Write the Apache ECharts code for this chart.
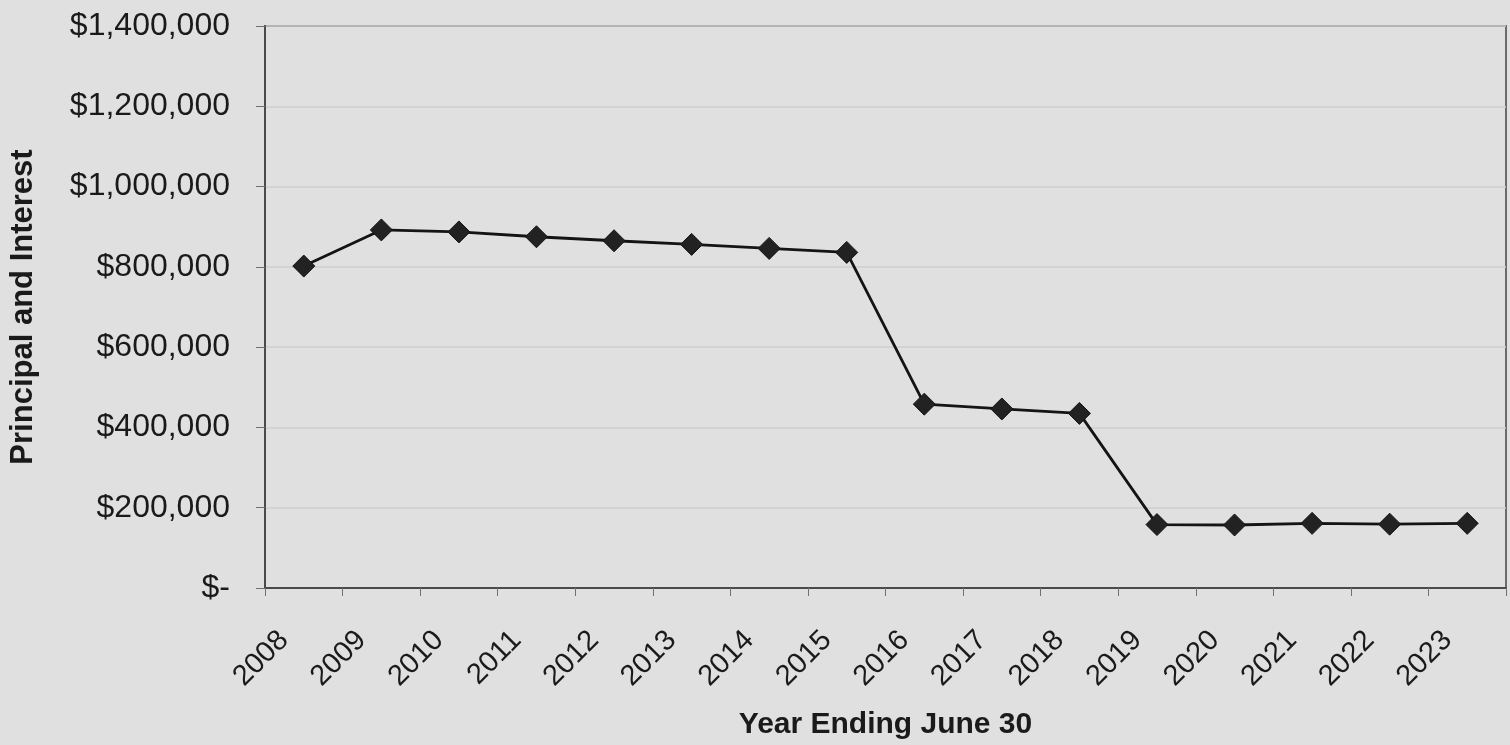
<!DOCTYPE html>
<html>
<head>
<meta charset="utf-8">
<title>Principal and Interest by Year</title>
<script src="https://cdn.jsdelivr.net/npm/echarts@6/dist/echarts.min.js"></script>
<style>
  html, body { margin: 0; padding: 0; background: #e0e0e0; }
  #chart { width: 1510px; height: 745px; }
</style>
</head>
<body>
<div id="chart"></div>
<script>
// Fiscal years (ending June 30)
const years = ['2008', '2009', '2010', '2011', '2012', '2013', '2014', '2015',
               '2016', '2017', '2018', '2019', '2020', '2021', '2022', '2023'];

// Annual debt service: principal plus interest, in dollars
const payments = [802000, 892000, 887000, 875000, 865000, 856000, 846000, 836000,
                  458000, 446000, 435000, 158000, 157000, 161000, 159000, 161000];

// Value axis range and step
const yMin = 0;
const yMax = 1400000;
const yStep = 200000;

const fontFamily = '"Liberation Sans", Arial, sans-serif';

function dollars(v) {
  if (v === 0) return '$-';
  return '$' + v.toLocaleString('en-US');
}

const chart = echarts.init(document.getElementById('chart'));

chart.setOption({
  backgroundColor: '#e0e0e0',
  animation: false,
  grid: {
    left: 262,
    right: 4,
    top: 26,
    bottom: 157,
    show: true,
    backgroundColor: 'transparent',
    borderColor: '#6a6a6a',
    borderWidth: 2
  },
  xAxis: {
    type: 'category',
    data: years,
    boundaryGap: true,
    name: 'Year Ending June 30',
    nameLocation: 'middle',
    nameGap: 122,
    nameTextStyle: {
      fontFamily: fontFamily,
      fontSize: 30,
      fontWeight: 'bold',
      color: '#1a1a1a'
    },
    axisLine: { show: true, lineStyle: { color: '#4a4a4a', width: 2 } },
    axisTick: { show: true, length: 8, lineStyle: { color: '#707070', width: 1 } },
    axisLabel: {
      rotate: 45,
      margin: 28,
      padding: [0, 28, 0, 0],
      interval: 0,
      fontFamily: fontFamily,
      fontSize: 29,
      color: '#1a1a1a'
    },
    splitLine: { show: false }
  },
  yAxis: {
    type: 'value',
    min: yMin,
    max: yMax,
    interval: yStep,
    name: 'Principal and Interest',
    nameLocation: 'middle',
    nameRotate: 90,
    nameGap: 226,
    nameTextStyle: {
      fontFamily: fontFamily,
      fontSize: 31,
      fontWeight: 'bold',
      color: '#1a1a1a'
    },
    axisLine: { show: true, lineStyle: { color: '#4a4a4a', width: 2 } },
    axisTick: { show: true, length: 9, lineStyle: { color: '#707070', width: 1 } },
    axisLabel: {
      margin: 35,
      fontFamily: fontFamily,
      fontSize: 32,
      color: '#1a1a1a',
      formatter: dollars
    },
    splitLine: { show: true, lineStyle: { color: '#cfcfcf', width: 1.5 } }
  },
  series: [{
    type: 'line',
    data: payments,
    symbol: 'diamond',
    symbolSize: 22,
    showAllSymbol: true,
    lineStyle: { color: '#141414', width: 2.8 },
    itemStyle: { color: '#222222', borderColor: '#141414', borderWidth: 1 }
  }]
});
</script>
</body>
</html>
